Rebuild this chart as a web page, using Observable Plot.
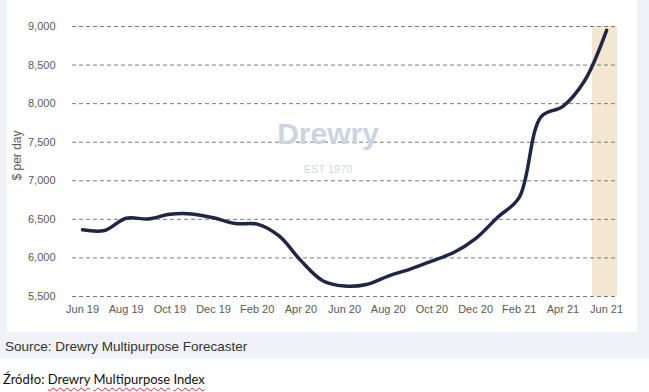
<!DOCTYPE html>
<html>
<head>
<meta charset="utf-8">
<script src="https://cdn.jsdelivr.net/npm/d3@7"></script>
<script src="https://cdn.jsdelivr.net/npm/@observablehq/plot@0.6"></script>
<style>
  body { margin: 0; background: #fff; }
  #wrap { position: relative; width: 649px; height: 392px; background: #fff; overflow: hidden; }
  .u { text-decoration: underline wavy #e02020; text-decoration-thickness: 1px; text-underline-offset: 3px; }
</style>
</head>
<body>
<div id="wrap">
  <div style="position:absolute;left:0;top:0;width:649px;height:359px;background:#f0f2f7"></div>
  <div id="chart" style="position:absolute;left:7px;top:0;width:630px;height:332px;background:#fff"></div>
  <div style="position:absolute;left:5px;top:339px;font:13.5px 'Liberation Sans', Arial, sans-serif;color:#333;white-space:nowrap">Source: Drewry Multipurpose Forecaster</div>
  <div style="position:absolute;left:3px;top:371px;font:13px Lato, 'Open Sans', sans-serif;color:#111;white-space:nowrap">Źródło: <span class="u">Drewry</span> <span class="u">Multipurpose</span> <span class="u">Index</span></div>
</div>
<script>
const months = ["Jun 19","Jul 19","Aug 19","Sep 19","Oct 19","Nov 19","Dec 19","Jan 20","Feb 20","Mar 20","Apr 20","May 20","Jun 20","Jul 20","Aug 20","Sep 20","Oct 20","Nov 20","Dec 20","Jan 21","Feb 21","Mar 21","Apr 21","May 21","Jun 21"];
const rates = [6365, 6355, 6515, 6505, 6565, 6570, 6520, 6445, 6438, 6285, 5965, 5705, 5635, 5655, 5765, 5855, 5960, 6070, 6250, 6525, 6785, 7830, 7965, 8300, 8950];
const yTicks = [5500, 6000, 6500, 7000, 7500, 8000, 8500, 9000];
const xTickIdx = [0, 2, 4, 6, 8, 10, 12, 14, 16, 18, 20, 22, 24];
const forecast = [{from: 23.35, to: 24.5, lo: 5500, hi: 9000}];

const data = months.map((m, i) => ({i, m, v: rates[i]}));

const chart = Plot.plot({
  width: 630,
  height: 332,
  marginLeft: 65,
  marginRight: 20,
  marginTop: 26,
  marginBottom: 36,
  style: {fontFamily: "'Liberation Sans', Arial, sans-serif", fontSize: "11px", color: "#595959", background: "white"},
  x: {domain: [-0.46, 24.5]},
  y: {domain: [5500, 9000]},
  marks: [
    Plot.rect(forecast, {x1: "from", x2: "to", y1: "lo", y2: "hi", fill: "#f3e7d2"}),
    Plot.gridY(yTicks, {stroke: "#7a7a7a", strokeOpacity: 1, strokeDasharray: "4,3", strokeWidth: 1}),
    Plot.axisY(yTicks, {tickSize: 0, tickPadding: 17, tickFormat: d3.format(","), label: null}),
    Plot.axisX(xTickIdx, {tickSize: 0, tickPadding: 9, tickFormat: i => months[i], label: null}),
    Plot.text(["$ per day"], {frameAnchor: "left", textAnchor: "middle", rotate: -90, dx: -55, dy: -6, fontSize: 12, fill: "#595959"}),
    Plot.text(["Drewry"], {frameAnchor: "middle", dx: -17, dy: -27, fontSize: 30, fontWeight: "bold", fill: "#cbd4df"}),
    Plot.text(["EST 1970"], {frameAnchor: "middle", dx: -17, dy: 8, fontSize: 11, fill: "#d3d8de"}),
    Plot.line(data, {x: "i", y: "v", curve: "catmull-rom", stroke: "#1e2745", strokeWidth: 3.5})
  ]
});
document.getElementById("chart").appendChild(chart);
</script>
</body>
</html>
